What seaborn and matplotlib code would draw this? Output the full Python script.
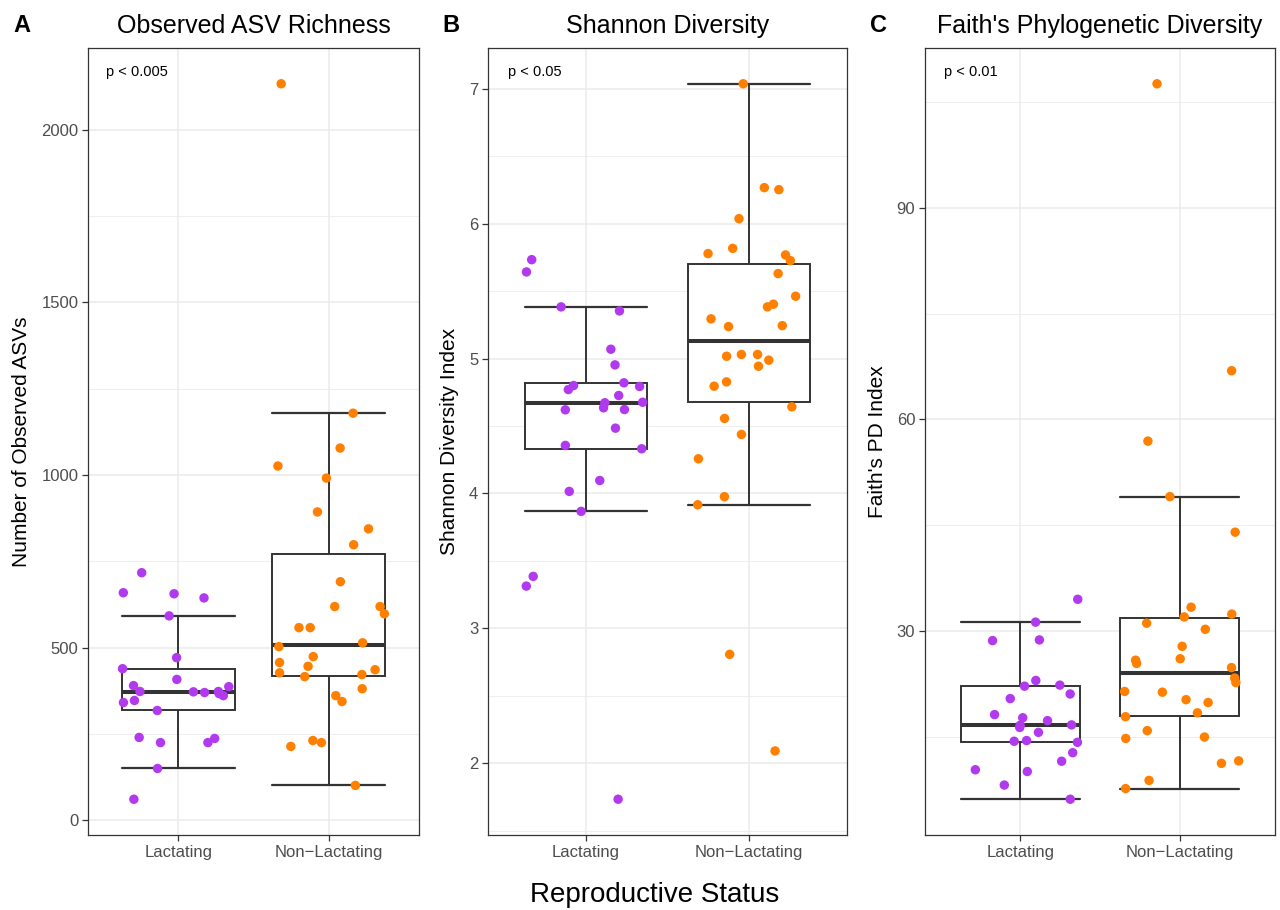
import numpy as np
import pandas as pd
import matplotlib
matplotlib.use("Agg")
import matplotlib.pyplot as plt
import matplotlib.transforms as mtransforms
from matplotlib.ticker import MultipleLocator, NullLocator
import seaborn as sns

# ---------------- data ----------------
groups = ["Lactating", "Non\u2212Lactating"]
colors = ["#B23AEE", "#FF7F00"]

asv_lact = [717, 659, 656, 644, 592, 471, 439, 408, 387, 373, 370, 390, 361,
            367, 373, 372, 341, 347, 318, 240, 225, 237, 225, 150, 61]
asv_non = [2133, 1179, 1078, 1026, 991, 893, 844, 798, 691, 619, 619, 598,
           558, 558, 514, 503, 474, 457, 446, 427, 416, 422, 436, 381, 361,
           344, 231, 214, 225, 101]

shannon_lact = [5.733, 5.642, 5.353, 5.383, 5.069, 4.953, 4.793, 4.800, 4.770,
                4.820, 4.726, 4.672, 4.622, 4.635, 4.676, 4.620, 4.484, 4.331,
                4.356, 4.096, 4.015, 3.867, 3.385, 3.313, 1.733]
shannon_non = [7.037, 6.267, 6.252, 6.037, 5.817, 5.778, 5.768, 5.726, 5.630,
               5.462, 5.383, 5.403, 5.294, 5.244, 5.237, 5.030, 5.017, 5.030,
               4.988, 4.943, 4.827, 4.795, 4.642, 4.556, 4.437, 4.257, 3.976,
               3.916, 2.807, 2.091]

faith_lact = [34.5, 31.26, 28.64, 28.74, 22.99, 22.33, 22.18, 21.07, 20.42,
              18.15, 17.70, 16.69, 17.29, 16.33, 16.64, 15.63, 14.37, 14.47,
              14.22, 12.75, 11.54, 10.33, 10.08, 8.16, 6.15]
faith_non = [107.6, 66.91, 56.93, 49.06, 44.02, 33.38, 32.4, 32.0, 31.11,
             30.25, 27.83, 26.07, 25.86, 25.41, 24.81, 23.34, 22.69, 21.33,
             21.43, 20.27, 19.86, 18.40, 17.85, 15.88, 14.97, 14.77, 11.24,
             11.59, 8.82, 7.66]

letters = ["A", "B", "C"]
titles = ["Observed ASV Richness", "Shannon Diversity",
          "Faith's Phylogenetic Diversity"]
ylabels = ["Number of Observed ASVs", "Shannon Diversity Index",
           "Faith's PD Index"]
pvals = ["p < 0.005", "p < 0.05", "p < 0.01"]
major_steps = [500, 1, 30]
minor_steps = [250, 0.5, 15]
xlabel = "Reproductive Status"

panels = [(asv_lact, asv_non), (shannon_lact, shannon_non),
          (faith_lact, faith_non)]

# ---------------- style ----------------
sns.set_theme(style="white")
plt.rcParams["font.family"] = ["Liberation Sans", "DejaVu Sans"]

W, H = 1280, 910
fig = plt.figure(figsize=(W / 100, H / 100), dpi=100)
fig.patch.set_facecolor("white")

lefts = [88, 488, 925]
widths = [331, 359, 350]
top_px, bot_px = 48, 835

np.random.seed(11)
for i, (lact, non) in enumerate(panels):
    ax = fig.add_axes([lefts[i] / W, 1 - bot_px / H, widths[i] / W,
                       (bot_px - top_px) / H])
    df = pd.DataFrame({
        "status": [groups[0]] * len(lact) + [groups[1]] * len(non),
        "value": list(lact) + list(non),
    })
    sns.boxplot(data=df, x="status", y="value", order=groups, ax=ax,
                width=0.75, color="white", linecolor="#333333",
                linewidth=1.4, showfliers=False, whis=1.5,
                medianprops={"linewidth": 2.9})
    # caps as wide as the box (ggplot errorbar style)
    for line in ax.lines:
        xd = np.asarray(line.get_xdata(), float)
        yd = np.asarray(line.get_ydata(), float)
        if len(xd) == 2 and yd[0] == yd[1] and abs(xd[1] - xd[0]) < 0.7:
            c = xd.mean()
            line.set_xdata([c - 0.375, c + 0.375])
            line.set_linewidth(1.6)
    sns.stripplot(data=df, x="status", y="value", order=groups, hue="status",
                  hue_order=groups, palette=colors, jitter=0.38, size=6.8,
                  linewidth=0, ax=ax, legend=False, zorder=3)

    vals = np.asarray(df["value"], float)
    rng = vals.max() - vals.min()
    ax.set_ylim(vals.min() - 0.05 * rng, vals.max() + 0.05 * rng)
    ax.set_xlim(-0.6, 1.6)

    ax.yaxis.set_major_locator(MultipleLocator(major_steps[i]))
    ax.yaxis.set_minor_locator(MultipleLocator(minor_steps[i]))
    ax.xaxis.set_minor_locator(NullLocator())
    ax.set_axisbelow(True)
    ax.grid(which="major", color="#EBEBEB", linewidth=1.1)
    ax.grid(which="minor", axis="y", color="#EBEBEB", linewidth=0.6)

    for sp in ax.spines.values():
        sp.set_visible(True)
        sp.set_color("#333333")
        sp.set_linewidth(0.9)
    ax.tick_params(axis="both", which="major", length=4, width=0.9,
                   color="#333333", labelcolor="#4D4D4D", labelsize=12,
                   pad=3, bottom=True, left=True)
    ax.tick_params(axis="both", which="minor", length=0)

    ax.set_xlabel("")
    ax.set_ylabel(ylabels[i], fontsize=15, color="black", labelpad=7)
    ax.set_title(titles[i], fontsize=18, color="black", pad=11)

    trans = mtransforms.blended_transform_factory(ax.transData, ax.transAxes)
    ax.text(-0.48, 0.97, pvals[i], transform=trans, ha="left", va="center",
            fontsize=10.5, color="black")

letter_x = [13, 442, 870]
for i, lt in enumerate(letters):
    fig.text(letter_x[i] / W, 1 - 32 / H, lt, fontsize=17, fontweight="bold",
             ha="left", va="baseline", color="black")

fig.text(655 / W, 1 - 895 / H, xlabel, fontsize=20, ha="center", va="center",
         color="black")

fig.savefig("out.png", dpi=100, facecolor="white")
